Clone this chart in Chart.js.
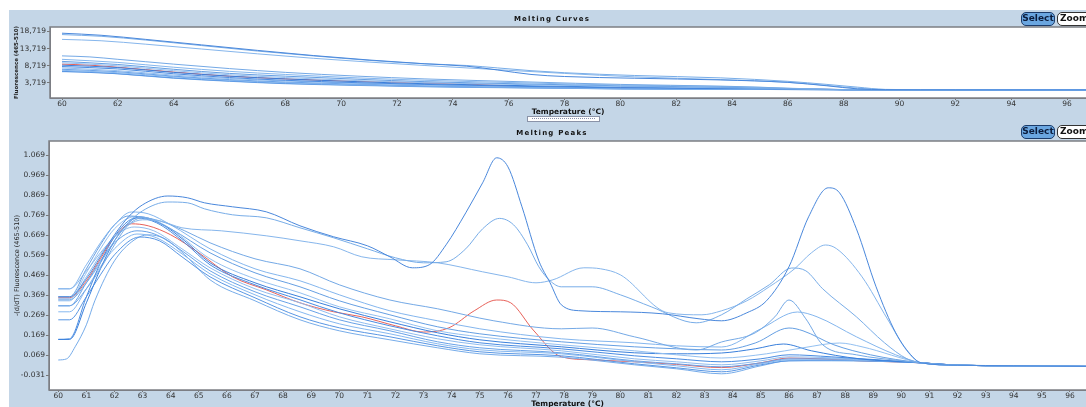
<!DOCTYPE html>
<html>
<head>
<meta charset="utf-8">
<script src="https://cdn.jsdelivr.net/npm/chart.js@4.4.1/dist/chart.umd.min.js"></script>
<style>
  body { margin: 0; width: 1086px; height: 407px; overflow: hidden; background: #fff; font-family: "DejaVu Sans", Arial, sans-serif; }
  #panel { position: absolute; left: 9px; top: 10px; width: 1077px; height: 397px; background: #c4d6e7; }
  canvas { position: absolute; left: 9px; }
  #curvesCanvas { top: 10px; }
  #peaksCanvas { top: 122px; }
  .ptitle { position: absolute; left: 452px; width: 200px; text-align: center; font: bold 7px "DejaVu Sans", sans-serif; letter-spacing: 1.2px; color: #111; line-height: 10px; }
  .btn { position: absolute; height: 12px; line-height: 12px; font: bold 9px "DejaVu Sans", sans-serif; border-radius: 5px; }
  .sel { left: 1021px; width: 32px; text-align: center; background: #6aa6e0; border: 1px solid #1b3b6a; color: #0c1d3d; }
  .zm { left: 1057px; width: 40px; padding-left: 2px; text-align: left; background: #fff; border: 1px solid #333; color: #111; }
  #scroll { position: absolute; left: 527px; top: 116px; width: 71px; height: 4px; background: #fff; border: 1px solid #8a93a8; }
  #scroll div { position: absolute; left: 4px; right: 4px; top: 1px; border-top: 1px dotted #8891b0; }
</style>
</head>
<body>
<div id="panel"></div>
<canvas id="curvesCanvas" width="1077" height="112"></canvas>
<canvas id="peaksCanvas" width="1077" height="287"></canvas>
<div class="ptitle" style="top:14px">Melting Curves</div>
<div class="ptitle" style="top:128px">Melting Peaks</div>
<div class="btn sel" style="top:12px">Select</div>
<div class="btn zm" style="top:12px">Zoom</div>
<div class="btn sel" style="top:125px">Select</div>
<div class="btn zm" style="top:125px">Zoom</div>
<div id="scroll"><div></div></div>
<script>
// tick labels
const curveTempTicks = [60, 62, 64, 66, 68, 70, 72, 74, 76, 78, 80, 82, 84, 86, 88, 90, 92, 94, 96];
const peakTempTicks = [60, 61, 62, 63, 64, 65, 66, 67, 68, 69, 70, 71, 72, 73, 74, 75, 76, 77, 78, 79, 80,
  81, 82, 83, 84, 85, 86, 87, 88, 89, 90, 91, 92, 93, 94, 95, 96];
const fluorTicks = [3719, 8719, 13719, 18719];
const derivTicks = [-0.031, 0.069, 0.169, 0.269, 0.369, 0.469, 0.569, 0.669, 0.769, 0.869, 0.969, 1.069];

// melting curves: [temperature, fluorescence]
const curveA = [[60,18200],[61.4,17600],[63,16400],[65,14800],[67,13200],[69,11700],[71,10400],[73,9300],[74.5,8600],[75.6,7500],[76.8,6200],[78,5600],[80.5,5100],[83.6,4600],[86,3900],[87.4,2900],[88.5,2000],[89.5,1780],[92,1720],[96.7,1700]];
const curveB = [[60,17800],[61.4,17300],[63,16200],[65,14600],[67,13000],[69,11600],[71,10300],[73,9300],[74.5,8800],[75.6,8100],[76.8,7300],[78,6700],[80.5,5900],[83.6,5200],[86,4200],[87.4,3300],[88.5,2500],[89.5,1850],[92,1720],[96.7,1700]];
const curveC = [[60,16400],[61.4,16000],[63,15000],[65,13600],[67,12200],[69,10900],[71,9800],[73,8800],[76,7400],[78,6500],[80.5,5500],[83.6,4700],[86,3900],[87.4,3000],[88.5,2200],[89.5,1800],[92,1720],[96.7,1700]];
const curveM = [[60,11600],[61,11300],[62,10600],[63,9900],[64,9200],[66,7900],[68,6800],[70.6,5700],[73,4900],[76.8,4000],[80,3300],[83.6,2800],[85,2500],[86.5,2000],[88,1800],[90,1730],[96.7,1700]];
const curveRed = [[60,9200],[61,8900],[62,8300],[63,7600],[64,6900],[66,5700],[68,4900],[70.6,4200],[73,3700],[74.5,3400],[76,2900],[77.5,2500],[80,2300],[83.6,2150],[86,2000],[88,1800],[90,1730],[96.7,1700]];
const curveL1 = [[60,10600],[62,9700],[64,8300],[66,7100],[68,6200],[70.6,5200],[73,4500],[76.8,3700],[80,3100],[83.6,2700],[86,2200],[88,1800],[90,1730],[96.7,1700]];
const curveL2 = [[60,10000],[62,9100],[64,7700],[66,6500],[68,5700],[70.6,4800],[73,4100],[76.8,3400],[80,2900],[83.6,2500],[86,2100],[88,1790],[90,1725],[96.7,1700]];
const curveL3 = [[60,9600],[62,8700],[64,7300],[66,6100],[68,5300],[70.6,4400],[73,3800],[76.8,3200],[80,2700],[83.6,2350],[86,2050],[88,1780],[90,1725],[96.7,1700]];
const curveL4 = [[60,8900],[62,8200],[64,6800],[66,5700],[68,4900],[70.6,4100],[73,3500],[76.8,2900],[80,2500],[83.6,2200],[86,2000],[88,1780],[90,1725],[96.7,1700]];
const curveL5 = [[60,8500],[62,7800],[64,6400],[66,5300],[68,4500],[70.6,3800],[73,3300],[76.8,2700],[80,2300],[83.6,2050],[86,1950],[88,1770],[90,1720],[96.7,1700]];
const curveL6 = [[60,8100],[62,7300],[64,6000],[66,5000],[68,4300],[70.6,3600],[73,3100],[76.8,2600],[80,2200],[83.6,2000],[86,1900],[88,1760],[90,1720],[96.7,1700]];
const curveL7 = [[60,7700],[62,7000],[64,5700],[66,4700],[68,4000],[70.6,3400],[73,2900],[76.8,2450],[80,2100],[83.6,1950],[86,1850],[88,1750],[90,1720],[96.7,1700]];
const curveL8 = [[60,7400],[62,6700],[64,5500],[66,4500],[68,3800],[70.6,3200],[73,2800],[76.8,2350],[80,2050],[83.6,1900],[86,1820],[88,1750],[90,1720],[96.7,1700]];
const curveL9 = [[60,7100],[62,6400],[64,5200],[66,4300],[68,3600],[70.6,3100],[73,2700],[76.8,2300],[80,2000],[83.6,1880],[86,1800],[88,1740],[90,1720],[96.7,1700]];
const curveL10 = [[60,7000],[61,6900],[62,6400],[64,5100],[66,4200],[68,3500],[70.6,3000],[73,2600],[76.8,2250],[80,1980],[83.6,1870],[86,1800],[88,1740],[90,1720],[96.7,1700]];

// melting peaks: [temperature, -(d/dT) fluorescence]
const peakA = [[60,0.36],[60.4,0.36],[61,0.45],[61.5,0.56],[62,0.67],[62.5,0.76],[63,0.82],[63.9,0.864],[64.6,0.855],[65.2,0.83],[66.2,0.81],[67.4,0.785],[68.6,0.715],[69.8,0.66],[71,0.615],[71.8,0.56],[72.6,0.505],[73.2,0.52],[73.8,0.62],[74.5,0.78],[75.1,0.93],[75.6,1.055],[76,1.01],[76.5,0.81],[77.1,0.54],[77.5,0.43],[77.9,0.32],[78.6,0.29],[80,0.285],[81.5,0.275],[82.8,0.25],[83.6,0.24],[84.5,0.28],[85.2,0.34],[86,0.51],[86.7,0.76],[87.4,0.905],[87.8,0.88],[88.4,0.7],[89.1,0.41],[89.8,0.18],[90.4,0.06],[90.7,0.03],[92,0.018],[94,0.015],[96.6,0.012]];
const peakB = [[60,0.345],[60.4,0.345],[61,0.43],[61.5,0.53],[62,0.64],[62.5,0.73],[63,0.79],[63.9,0.834],[64.6,0.83],[65.2,0.8],[66.2,0.77],[67.4,0.755],[68.6,0.705],[69.8,0.655],[71,0.6],[72,0.555],[73,0.53],[73.8,0.535],[74.5,0.6],[75.1,0.7],[75.7,0.752],[76.2,0.72],[76.7,0.62],[77.1,0.51],[77.5,0.44],[77.9,0.41],[79,0.41],[80,0.37],[81.1,0.31],[82.7,0.23],[83.6,0.27],[84.5,0.35],[85.3,0.42],[86.1,0.504],[86.6,0.49],[87.2,0.4],[88.4,0.26],[89.4,0.13],[90.2,0.05],[90.7,0.03],[92,0.018],[94,0.015],[96.6,0.012]];
const peakC = [[60,0.40],[60.4,0.40],[61,0.49],[61.5,0.58],[62,0.66],[62.5,0.72],[63,0.745],[63.6,0.74],[64.4,0.705],[65.8,0.69],[67.4,0.665],[68.6,0.64],[69.8,0.61],[70.8,0.56],[72,0.545],[73.5,0.53],[75.1,0.485],[76,0.46],[77,0.43],[77.6,0.445],[78.7,0.505],[79.3,0.5],[80,0.47],[81.7,0.28],[82.9,0.27],[83.6,0.29],[84.5,0.34],[85.3,0.41],[86.2,0.5],[86.8,0.58],[87.3,0.619],[87.7,0.6],[88.6,0.46],[89.5,0.25],[90.2,0.09],[90.7,0.03],[92,0.018],[94,0.015],[96.6,0.012]];
const peakM = [[60,0.315],[60.4,0.315],[61,0.4],[61.5,0.5],[62,0.62],[62.5,0.72],[63,0.755],[63.6,0.74],[64.5,0.69],[65.4,0.63],[67,0.55],[68.6,0.5],[70,0.42],[71.8,0.344],[73.5,0.3],[75.5,0.24],[77.9,0.2],[79,0.204],[80.5,0.16],[82.7,0.094],[83.6,0.134],[84.8,0.18],[85.5,0.26],[86,0.344],[86.6,0.25],[87.2,0.12],[88.4,0.07],[90,0.04],[90.7,0.03],[92,0.018],[94,0.015],[96.6,0.012]];
const peakRed = [[60,0.355],[60.4,0.355],[61,0.44],[61.5,0.55],[62,0.66],[62.6,0.725],[63.2,0.715],[64,0.67],[65,0.58],[66.2,0.46],[67.4,0.395],[68.6,0.33],[69.8,0.285],[70.8,0.26],[72,0.215],[73,0.184],[73.9,0.205],[74.8,0.29],[75.6,0.344],[76.1,0.33],[76.9,0.194],[77.9,0.06],[79,0.045],[80.5,0.035],[82,0.022],[83.6,0.006],[85,0.03],[86,0.054],[87,0.05],[88.5,0.04],[90.7,0.03],[92,0.018],[94,0.015],[96.6,0.012]];
const peakL1 = [[60,0.40],[60.4,0.40],[61,0.52],[61.5,0.63],[62,0.72],[62.6,0.784],[63.2,0.775],[64,0.72],[65.4,0.60],[67,0.5],[68.6,0.44],[70,0.37],[71.8,0.29],[73.5,0.24],[75,0.2],[77.9,0.15],[80.5,0.13],[82,0.115],[83.6,0.109],[85,0.2],[86.3,0.284],[87,0.26],[88.4,0.16],[89.8,0.07],[90.7,0.03],[92,0.018],[94,0.015],[96.6,0.012]];
const peakL2 = [[60,0.36],[60.4,0.36],[61,0.5],[61.5,0.62],[62,0.72],[62.5,0.764],[63.2,0.75],[64,0.7],[65.4,0.58],[67,0.48],[68.6,0.41],[70,0.34],[71.8,0.27],[73.5,0.21],[75,0.175],[77.9,0.135],[80.5,0.11],[82,0.1],[83.6,0.094],[84.8,0.129],[86,0.204],[86.5,0.19],[87.6,0.12],[88.9,0.07],[90.7,0.03],[92,0.018],[94,0.015],[96.6,0.012]];
const peakL3 = [[60,0.35],[60.4,0.35],[61,0.48],[61.5,0.6],[62,0.7],[62.7,0.76],[63.3,0.75],[64,0.7],[65.4,0.55],[67,0.45],[68.6,0.38],[70,0.31],[71.8,0.25],[73.5,0.19],[75,0.16],[77.9,0.12],[80.5,0.09],[82,0.07],[83.6,0.054],[85.2,0.075],[86.5,0.105],[87.8,0.129],[88.6,0.11],[90.7,0.03],[92,0.018],[94,0.015],[96.6,0.012]];
const peakL4 = [[60,0.147],[60.4,0.147],[61,0.33],[61.5,0.5],[62,0.64],[62.5,0.73],[62.9,0.76],[63.6,0.73],[64.5,0.64],[65.4,0.53],[67,0.43],[68.6,0.36],[70,0.3],[71.8,0.235],[73.5,0.18],[75,0.145],[77.9,0.11],[80.5,0.08],[82,0.075],[83.6,0.079],[84.8,0.1],[85.8,0.124],[86.8,0.09],[88.5,0.05],[90.7,0.03],[92,0.018],[94,0.015],[96.6,0.012]];
const peakL5 = [[60,0.147],[60.4,0.15],[61,0.36],[61.5,0.53],[62,0.66],[62.5,0.74],[62.8,0.754],[63.5,0.73],[64.5,0.63],[65.4,0.52],[67,0.42],[68.6,0.345],[70,0.28],[71.8,0.215],[73.5,0.165],[75,0.13],[77.9,0.1],[80.5,0.065],[82,0.05],[83.6,0.035],[85,0.05],[86,0.07],[87.5,0.06],[90.7,0.03],[92,0.018],[94,0.015],[96.6,0.012]];
const peakL6 = [[60,0.34],[60.4,0.34],[61,0.46],[61.5,0.57],[62,0.66],[62.7,0.709],[63.4,0.69],[64.4,0.6],[65.4,0.505],[67,0.4],[68.6,0.33],[70,0.26],[71.8,0.2],[73.5,0.15],[75,0.12],[77.9,0.09],[80.5,0.05],[82,0.035],[83.6,0.02],[85,0.04],[86,0.06],[87.5,0.055],[90.7,0.03],[92,0.018],[94,0.015],[96.6,0.012]];
const peakL7 = [[60,0.315],[60.4,0.315],[61,0.43],[61.5,0.54],[62,0.63],[62.8,0.69],[63.5,0.67],[64.4,0.59],[65.4,0.49],[67,0.385],[68.6,0.31],[70,0.245],[71.8,0.19],[73.5,0.135],[75,0.105],[77.9,0.08],[80.5,0.04],[82,0.025],[83.6,0.01],[85,0.03],[86,0.05],[87.5,0.05],[90.7,0.03],[92,0.018],[94,0.015],[96.6,0.012]];
const peakL8 = [[60,0.285],[60.4,0.285],[61,0.4],[61.5,0.51],[62,0.6],[62.8,0.674],[63.5,0.655],[64.4,0.575],[65.4,0.475],[67,0.37],[68.6,0.285],[70,0.225],[71.8,0.175],[73.5,0.125],[75,0.095],[77.9,0.075],[80.5,0.035],[82,0.015],[83.6,-0.005],[85,0.025],[86,0.045],[87.5,0.045],[90.7,0.03],[92,0.018],[94,0.015],[96.6,0.012]];
const peakL9 = [[60,0.245],[60.4,0.245],[61,0.36],[61.5,0.47],[62,0.57],[62.9,0.659],[63.6,0.64],[64.4,0.56],[65.4,0.46],[67,0.355],[68.6,0.26],[70,0.205],[71.8,0.16],[73.5,0.115],[75,0.085],[77.9,0.065],[80.5,0.025],[82,0.005],[83.6,-0.015],[85,0.02],[86,0.04],[87.5,0.042],[90.7,0.03],[92,0.018],[94,0.015],[96.6,0.012]];
const peakL10 = [[60,0.044],[60.3,0.05],[60.6,0.11],[61,0.22],[61.3,0.34],[62,0.54],[62.7,0.644],[63.2,0.67],[63.8,0.65],[64.5,0.57],[65.4,0.445],[67,0.34],[68.6,0.245],[70,0.19],[71.8,0.145],[73.5,0.105],[75,0.075],[77.9,0.058],[80.5,0.02],[82,0],[83.6,-0.025],[85,0.015],[86,0.04],[87.5,0.04],[90.7,0.03],[92,0.018],[94,0.015],[96.6,0.012]];

const curveSeries = [curveA, curveB, curveC, curveM, curveL1, curveL2, curveL3, curveL4, curveL5, curveL6, curveL7, curveL8, curveL9, curveL10, curveRed];
const peakSeries = [peakA, peakB, peakC, peakM, peakL1, peakL2, peakL3, peakL4, peakL5, peakL6, peakL7, peakL8, peakL9, peakL10, peakRed];
const lineColors = ['#4a88dc', '#78ade8', '#86b6ec', '#74a9e6', '#84b6ee', '#659fe3', '#93c0f1', '#3a80dc',
  '#4a8ce2', '#90bcef', '#68a2e8', '#86b8f0', '#5896e4', '#76acea', '#e8625a'];

const toPoints = (pairs) => pairs.map(([x, y]) => ({ x, y }));

const plotFrame = {
  id: 'plotFrame',
  beforeDraw(chart) {
    const { ctx, chartArea: a } = chart;
    ctx.save();
    ctx.fillStyle = '#fff';
    ctx.fillRect(a.left, a.top, a.right - a.left, a.bottom - a.top);
    ctx.restore();
  },
  afterDraw(chart) {
    const { ctx, chartArea: a } = chart;
    ctx.save();
    ctx.strokeStyle = '#7c7f84';
    ctx.lineWidth = 1.5;
    ctx.strokeRect(a.left, a.top, a.right - a.left + 2, a.bottom - a.top);
    ctx.restore();
  }
};

const tickFont = { family: '"DejaVu Sans", sans-serif', size: 7.5 };

const drawPanel = (canvasId, o) => {
  const el = document.getElementById(canvasId);
  return new Chart(el.getContext('2d'), {
    type: 'line',
    data: {
      datasets: o.series.map((s, i) => ({
        data: toPoints(s),
        borderColor: lineColors[i],
        borderWidth: 1,
        pointRadius: 0,
        cubicInterpolationMode: 'monotone',
        fill: false
      }))
    },
    options: {
      responsive: false,
      animation: false,
      events: [],
      layout: { padding: { top: o.padTop, left: 0, right: 0, bottom: 0 } },
      plugins: { legend: { display: false }, tooltip: { enabled: false }, title: { display: false } },
      scales: {
        x: {
          type: 'linear',
          min: o.xMin,
          max: o.xMax,
          afterBuildTicks: (s) => { s.ticks = o.xTicks.map((v) => ({ value: v })); },
          afterFit: (s) => { s.height = o.xHeight; },
          ticks: { font: tickFont, color: '#333', padding: 0, maxRotation: 0, autoSkip: false, callback: (v) => v },
          grid: { drawOnChartArea: false, tickLength: 2, color: '#777' },
          border: { color: '#7c7f84' },
          title: { display: true, text: 'Temperature (°C)', color: '#111',
            font: { family: '"DejaVu Sans", sans-serif', size: 7.5, weight: 'bold' },
            padding: { top: 0, bottom: o.xTitlePad } }
        },
        y: {
          min: o.yMin,
          max: o.yMax,
          afterBuildTicks: (s) => { s.ticks = o.yTicks.map((v) => ({ value: v })); },
          afterFit: (s) => { s.width = o.yWidth; },
          ticks: { font: o.yFont, color: '#333', padding: 1, callback: o.yFormat },
          grid: { drawOnChartArea: false, tickLength: 3, color: '#777' },
          border: { color: '#7c7f84' },
          title: { display: true, text: o.yTitle, color: '#222', font: o.yTitleFont, padding: { top: 4, bottom: 0 } }
        }
      }
    },
    plugins: [plotFrame]
  });
};

drawPanel('curvesCanvas', {
  series: curveSeries,
  padTop: 17,
  xMin: 59.57, xMax: 96.68, xTicks: curveTempTicks, xHeight: 24, xTitlePad: 5,
  yMin: -650, yMax: 20000, yTicks: fluorTicks, yWidth: 41,
  yFont: { family: '"DejaVu Sans", sans-serif', size: 7.5 },
  yFormat: (v) => v.toLocaleString('en-US'),
  yTitle: 'Fluorescence (465-510)',
  yTitleFont: { family: '"DejaVu Sans", sans-serif', size: 5.5, weight: 'bold' }
});

drawPanel('peaksCanvas', {
  series: peakSeries,
  padTop: 19,
  xMin: 59.67, xMax: 96.57, xTicks: peakTempTicks, xHeight: 19, xTitlePad: 0,
  yMin: -0.106, yMax: 1.139, yTicks: derivTicks, yWidth: 40,
  yFont: { family: '"DejaVu Sans", sans-serif', size: 7.5 },
  yFormat: (v) => v.toFixed(3),
  yTitle: '-(d/dT) Fluorescence (465-510)',
  yTitleFont: { family: '"DejaVu Sans", sans-serif', size: 6.5 }
});
</script>
</body>
</html>
